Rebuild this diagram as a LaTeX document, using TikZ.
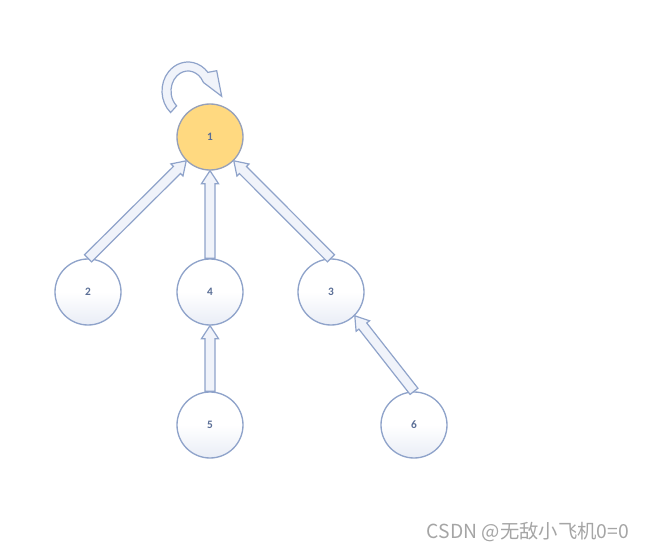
\documentclass[tikz,border=0pt]{standalone}
\usepackage{fontspec}
\setmainfont{Carlito}
\newfontfamily\cjkfont{Noto Sans CJK SC}
\usetikzlibrary{calc}
\definecolor{edgeblue}{RGB}{143,163,202}
\definecolor{goldfill}{RGB}{255,217,128}
\definecolor{goldline}{RGB}{150,160,185}
\definecolor{arrfill}{RGB}{240,243,250}
\definecolor{labtext}{RGB}{90,110,150}
\definecolor{shadebot}{RGB}{233,237,246}
\definecolor{wmark}{RGB}{165,165,165}
\tikzset{
  vert/.style={circle, draw=edgeblue, line width=1pt, minimum size=49.5pt, inner sep=0pt,
    top color=white, bottom color=shadebot, middle color=white, text=labtext,
    font=\fontsize{8.5}{10}\selectfont\bfseries},
  rootvert/.style={vert, fill=goldfill, draw=goldline, top color=goldfill, bottom color=goldfill, middle color=goldfill},
  blk/.style={draw=edgeblue, fill=arrfill, line width=0.9pt, line join=miter},
}
\newcommand\blockarr[2]{%
  \coordinate (bS) at (#1); \coordinate (bE) at (#2);
  \coordinate (bB) at ($(bE)!9.75pt!(bS)$);
  \draw[blk] ($(bS)!3.75pt!90:(bE)$) -- ($(bB)!3.75pt!-90:(bS)$) -- ($(bB)!6.4pt!-90:(bS)$)
    -- (bE) -- ($(bB)!6.4pt!90:(bS)$) -- ($(bB)!3.75pt!90:(bS)$) -- ($(bS)!3.75pt!-90:(bE)$) -- cycle;
}
\begin{document}
\begin{tikzpicture}[x=0.75pt,y=0.75pt]
\useasboundingbox (0,0) rectangle (647,551);
\node[rootvert] (n1) at (210,414) {1};
\node[vert] (n2) at (88,259) {2};
\node[vert] (n4) at (210,259) {4};
\node[vert] (n3) at (331,259) {3};
\node[vert] (n5) at (210,126) {5};
\node[vert] (n6) at (414,126) {6};
\blockarr{n2.north}{n1.225}
\blockarr{n4.north}{n1.south}
\blockarr{n3.north}{n1.315}
\blockarr{n5.north}{n4.south}
\blockarr{n6.north}{n3.-45}
% self loop curved arrow
\coordinate (lc) at (188,460);
\draw[blk] ($(lc)+(228:19.5pt and 21.75pt)$) arc[start angle=228, end angle=40, x radius=19.5pt, y radius=21.75pt]
  -- (216.7,480.3) -- (221.7,454.7) -- (203.5,468.5)
  -- ($(lc)+(40:12.75pt and 15pt)$) arc[start angle=40, end angle=228, x radius=12.75pt, y radius=15pt] -- cycle;
\node[text=wmark, font=\cjkfont\fontsize{14.5}{16}\selectfont, anchor=center] (wm) at (528,19) {CSDN @无敌小飞机0=0};
\end{tikzpicture}
\end{document}
